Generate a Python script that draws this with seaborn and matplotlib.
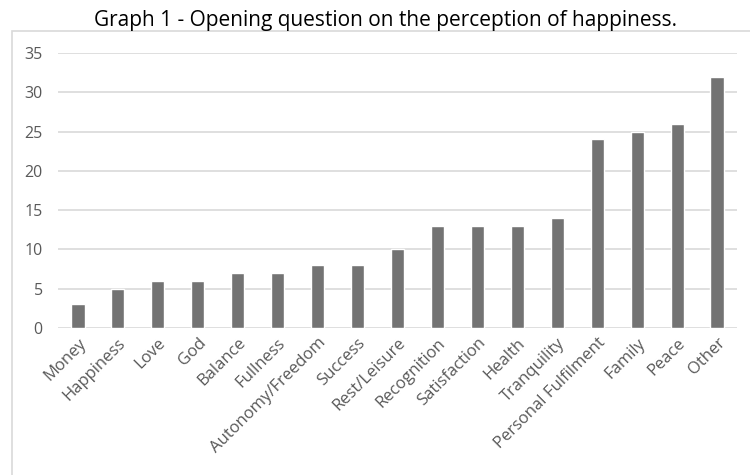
import matplotlib
matplotlib.use("Agg")
import matplotlib.pyplot as plt
import seaborn as sns
import pandas as pd
from matplotlib.patches import Rectangle

# --- datos ---
categorias = ["Money", "Happiness", "Love", "God", "Balance", "Fullness",
              "Autonomy/Freedom", "Success", "Rest/Leisure", "Recognition",
              "Satisfaction", "Health", "Tranquility", "Personal Fulfilment",
              "Family", "Peace", "Other"]
valores = [3, 5, 6, 6, 7, 7, 8, 8, 10, 13, 13, 13, 14, 24, 25, 26, 32]
ticks_y = [0, 5, 10, 15, 20, 25, 30, 35]
titulo = "Graph 1 - Opening question on the perception of happiness."

df = pd.DataFrame({"categoria": categorias, "valor": valores})

sns.set_theme(style="white")
plt.rcParams["font.family"] = ["Open Sans", "DejaVu Sans"]

fig = plt.figure(figsize=(7.5, 4.75), dpi=100)
ax = fig.add_axes([0.0773, 0.3095, 0.9054, 0.5789])

sns.barplot(data=df, x="categoria", y="valor", color="#737373",
            width=0.33, saturation=1, ax=ax)

ax.set_ylim(0, 35)
ax.set_yticks(ticks_y)
ax.set_xlim(-0.5, len(categorias) - 0.5)
ax.grid(axis="y", color="#d9d9d9", linewidth=1.2)
ax.set_axisbelow(True)
for s in ax.spines.values():
    s.set_visible(False)
ax.set_xlabel("")
ax.set_ylabel("")
ax.tick_params(axis="both", length=0, colors="#595959")
ax.tick_params(axis="y", pad=11, labelsize=11.5)
ax.tick_params(axis="x", pad=5, labelsize=12)
plt.setp(ax.get_xticklabels(), rotation=45, ha="right", va="top",
         rotation_mode="anchor")

# marco del gráfico
fig.patches.append(Rectangle((12 / 750, -0.1), 1.0, 1 - 31 / 475 + 0.1,
                             transform=fig.transFigure, fill=False,
                             edgecolor="#d9d9d9", linewidth=1.2))

fig.text(385 / 750, 1 - 26 / 475, titulo, ha="center", va="baseline",
         fontsize=15, color="black")

fig.savefig("out.png", dpi=100)
